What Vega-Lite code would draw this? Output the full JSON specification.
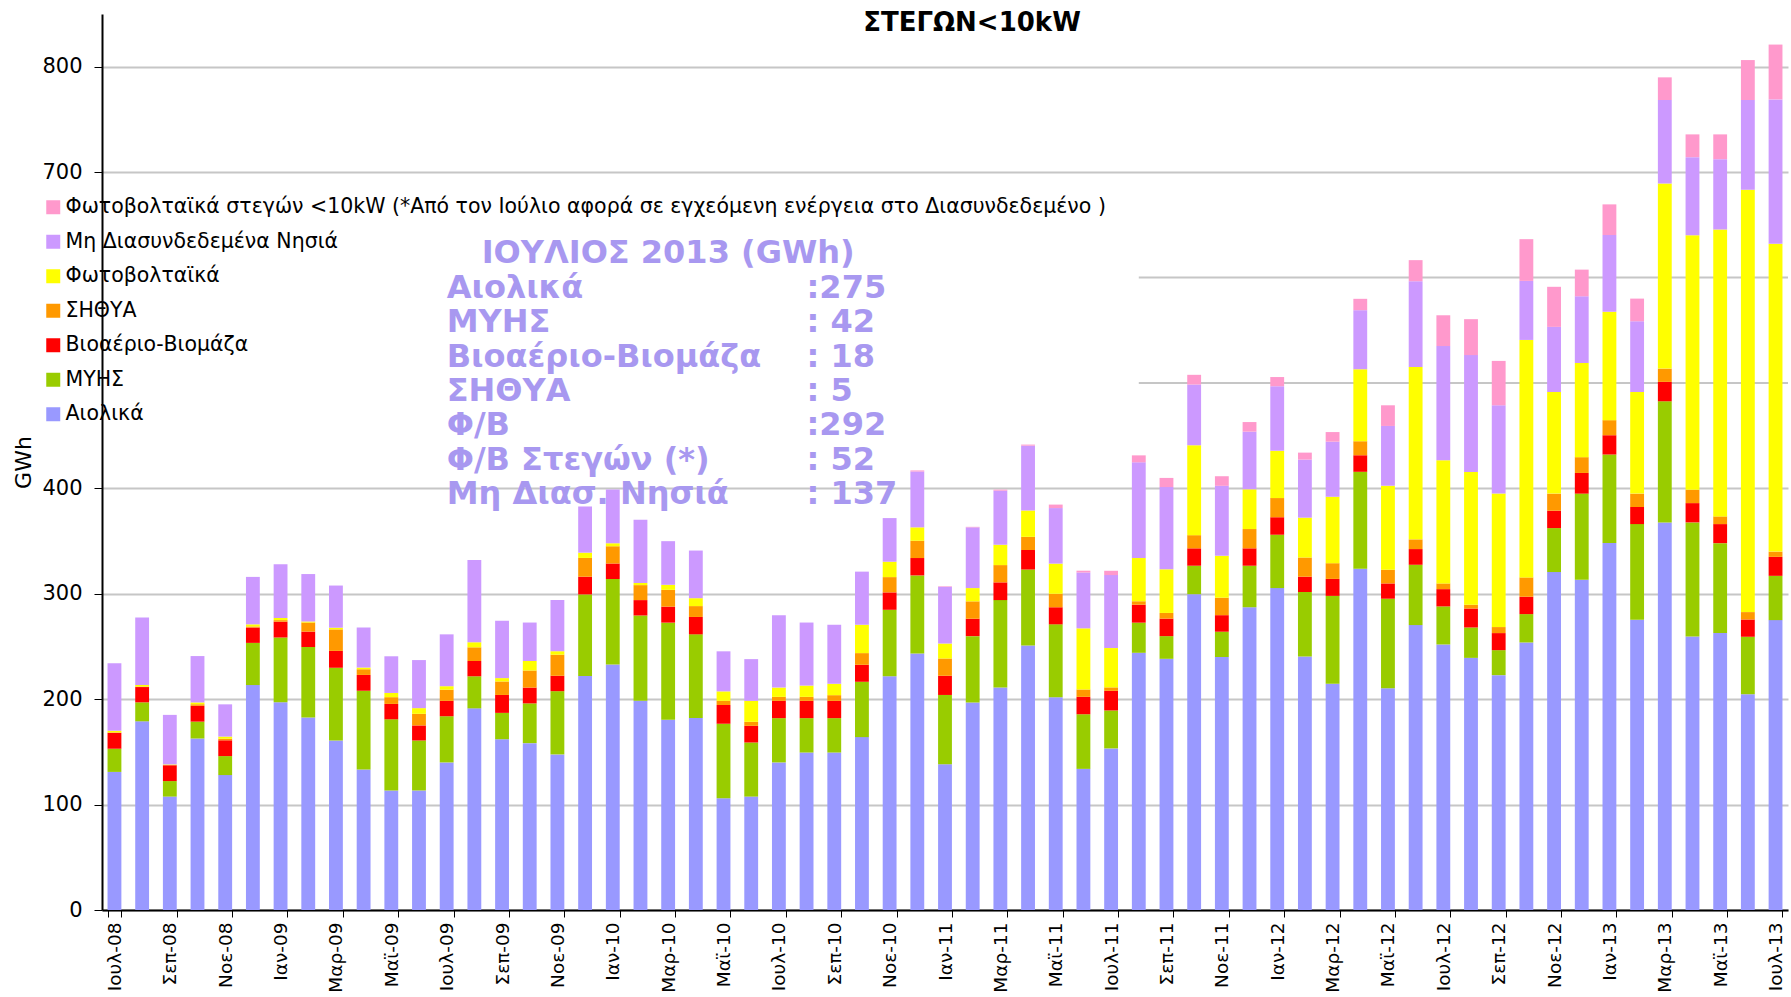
{
  "$schema": "https://vega.github.io/schema/vega-lite/v6.json",
  "width": 1686,
  "height": 896,
  "autosize": {"type": "none"},
  "padding": {"left": 102, "top": 14, "right": 3, "bottom": 87},
  "background": "white",
  "title": {"text": "ΣΤΕΓΩΝ<10kW", "font": "DejaVu Sans", "fontSize": 26, "fontWeight": "bold", "color": "#000", "anchor": "middle", "frame": "group", "offset": -22, "dx": 27},
  "config": {"view": {"stroke": null}},
  "datasets": {
    "series": [
      {"key": "A", "name": "Αιολικά", "rank": 1},
      {"key": "M", "name": "ΜΥΗΣ", "rank": 2},
      {"key": "B", "name": "Βιοαέριο-Βιομάζα", "rank": 3},
      {"key": "S", "name": "ΣΗΘΥΑ", "rank": 4},
      {"key": "PV", "name": "Φωτοβολταϊκά", "rank": 5},
      {"key": "N", "name": "Μη Διασυνδεδεμένα Νησιά", "rank": 6},
      {"key": "R", "name": "Φωτοβολταϊκά στεγών <10kW (*Από τον Ιούλιο αφορά σε εγχεόμενη ενέργεια στο Διασυνδεδεμένο )", "rank": 7}
    ],
    "months": [
      {"m": "Ιουλ-08", "A": 131, "M": 22, "B": 15, "S": 0.5, "PV": 1.5, "N": 64, "R": 0},
      {"m": "Αυγ-08", "A": 179, "M": 18, "B": 14.5, "S": 0.5, "PV": 1.5, "N": 64, "R": 0},
      {"m": "Σεπ-08", "A": 107.6, "M": 14.7, "B": 15, "S": 0.3, "PV": 0.5, "N": 47, "R": 0},
      {"m": "Οκτ-08", "A": 162.7, "M": 16, "B": 15, "S": 1.5, "PV": 1.7, "N": 44, "R": 0},
      {"m": "Νοε-08", "A": 128, "M": 18, "B": 15, "S": 1.5, "PV": 2, "N": 30.6, "R": 0},
      {"m": "Δεκ-08", "A": 213.4, "M": 40, "B": 14.6, "S": 1, "PV": 2, "N": 45, "R": 0},
      {"m": "Ιαν-09", "A": 197, "M": 61.5, "B": 15, "S": 1.5, "PV": 2, "N": 51, "R": 0},
      {"m": "Φεβ-09", "A": 182.5, "M": 67, "B": 14.6, "S": 8.6, "PV": 1, "N": 45, "R": 0},
      {"m": "Μαρ-09", "A": 160.8, "M": 69, "B": 16, "S": 20.4, "PV": 1.6, "N": 40, "R": 0},
      {"m": "Απρ-09", "A": 133.4, "M": 74.6, "B": 15, "S": 5.4, "PV": 1.6, "N": 38, "R": 0},
      {"m": "Μαϊ-09", "A": 113.4, "M": 67.5, "B": 14.6, "S": 6.4, "PV": 4, "N": 34.8, "R": 0},
      {"m": "Ιουν-09", "A": 113.4, "M": 47.4, "B": 14.3, "S": 11, "PV": 5.4, "N": 45.6, "R": 0},
      {"m": "Ιουλ-09", "A": 140, "M": 43.8, "B": 14.6, "S": 10.6, "PV": 3.3, "N": 49.2, "R": 0},
      {"m": "Αυγ-09", "A": 191.3, "M": 30.4, "B": 14.5, "S": 13, "PV": 4.8, "N": 78, "R": 0},
      {"m": "Σεπ-09", "A": 162, "M": 25, "B": 17, "S": 12.8, "PV": 3.2, "N": 54.4, "R": 0},
      {"m": "Οκτ-09", "A": 158.3, "M": 37.7, "B": 15, "S": 16.2, "PV": 9, "N": 36.5, "R": 0},
      {"m": "Νοε-09", "A": 147.6, "M": 60, "B": 14.6, "S": 20, "PV": 3.3, "N": 48.6, "R": 0},
      {"m": "Δεκ-09", "A": 222, "M": 77.4, "B": 16.8, "S": 17.8, "PV": 5, "N": 43.8, "R": 0},
      {"m": "Ιαν-10", "A": 233, "M": 81, "B": 14.8, "S": 16.2, "PV": 3, "N": 51, "R": 0},
      {"m": "Φεβ-10", "A": 198.4, "M": 81, "B": 14.6, "S": 14.2, "PV": 2, "N": 60, "R": 0},
      {"m": "Μαρ-10", "A": 180.6, "M": 92, "B": 15.2, "S": 15.9, "PV": 4.8, "N": 41.4, "R": 0},
      {"m": "Απρ-10", "A": 182.2, "M": 79.3, "B": 16.5, "S": 10.3, "PV": 7.5, "N": 45.2, "R": 0},
      {"m": "Μαϊ-10", "A": 106, "M": 70.7, "B": 17.8, "S": 3.9, "PV": 9, "N": 38, "R": 0},
      {"m": "Ιουν-10", "A": 107.6, "M": 51.3, "B": 15.8, "S": 3.8, "PV": 19.9, "N": 39.6, "R": 0},
      {"m": "Ιουλ-10", "A": 140, "M": 42, "B": 16.4, "S": 3.8, "PV": 8.8, "N": 68.7, "R": 0},
      {"m": "Αυγ-10", "A": 149.4, "M": 32.6, "B": 16.4, "S": 3.8, "PV": 10.7, "N": 59.8, "R": 0},
      {"m": "Σεπ-10", "A": 149.4, "M": 32.6, "B": 16.4, "S": 5.4, "PV": 10.8, "N": 56, "R": 0},
      {"m": "Οκτ-10", "A": 164, "M": 52.5, "B": 16.1, "S": 11.1, "PV": 26.9, "N": 50.4, "R": 0},
      {"m": "Νοε-10", "A": 221.8, "M": 63, "B": 16.5, "S": 14.5, "PV": 14.6, "N": 41.4, "R": 0},
      {"m": "Δεκ-10", "A": 243.4, "M": 74, "B": 16.5, "S": 16.4, "PV": 12.7, "N": 53, "R": 1},
      {"m": "Ιαν-11", "A": 138.3, "M": 65.7, "B": 18.2, "S": 16.4, "PV": 14.2, "N": 53.8, "R": 0.5},
      {"m": "Φεβ-11", "A": 196.8, "M": 63, "B": 16.5, "S": 16.5, "PV": 12.6, "N": 57.6, "R": 0.5},
      {"m": "Μαρ-11", "A": 211, "M": 83, "B": 16.8, "S": 16.4, "PV": 19.3, "N": 51.3, "R": 1},
      {"m": "Απρ-11", "A": 251, "M": 72, "B": 18.5, "S": 12.5, "PV": 25, "N": 61.5, "R": 1},
      {"m": "Μαϊ-11", "A": 201.8, "M": 69.2, "B": 16.2, "S": 12.8, "PV": 28.6, "N": 52.7, "R": 3.3},
      {"m": "Ιουν-11", "A": 133.9, "M": 51.8, "B": 16.5, "S": 7, "PV": 58, "N": 53, "R": 1.7},
      {"m": "Ιουλ-11", "A": 153.3, "M": 36, "B": 18.6, "S": 3.3, "PV": 37.3, "N": 69.2, "R": 4.1},
      {"m": "Αυγ-11", "A": 244, "M": 28.6, "B": 17, "S": 3.3, "PV": 41, "N": 90.8, "R": 6.6},
      {"m": "Σεπ-11", "A": 238.3, "M": 21.5, "B": 16.6, "S": 5.4, "PV": 41.4, "N": 78, "R": 8.7},
      {"m": "Οκτ-11", "A": 299.6, "M": 27, "B": 16.5, "S": 12.5, "PV": 85.3, "N": 57.6, "R": 9.2},
      {"m": "Νοε-11", "A": 240, "M": 24, "B": 15.7, "S": 16.6, "PV": 39.7, "N": 66.4, "R": 9.1},
      {"m": "Δεκ-11", "A": 287.2, "M": 39.4, "B": 16.5, "S": 18.3, "PV": 37.7, "N": 54.7, "R": 9.1},
      {"m": "Ιαν-12", "A": 305.4, "M": 50.6, "B": 16.6, "S": 18.2, "PV": 44.8, "N": 61.3, "R": 8.7},
      {"m": "Φεβ-12", "A": 240.4, "M": 61.3, "B": 14.5, "S": 18.2, "PV": 37.8, "N": 55.1, "R": 6.6},
      {"m": "Μαρ-12", "A": 214.7, "M": 83.3, "B": 16.1, "S": 14.9, "PV": 63, "N": 52.3, "R": 9.1},
      {"m": "Απρ-12", "A": 323.7, "M": 92, "B": 15.7, "S": 13.3, "PV": 68.3, "N": 56, "R": 10.8},
      {"m": "Μαϊ-12", "A": 210.4, "M": 84.9, "B": 14.5, "S": 13, "PV": 79.7, "N": 56.7, "R": 19.6},
      {"m": "Ιουν-12", "A": 270.3, "M": 57.2, "B": 14.9, "S": 9.2, "PV": 163.6, "N": 81.3, "R": 20},
      {"m": "Ιουλ-12", "A": 251.9, "M": 36.1, "B": 16.4, "S": 5.4, "PV": 116.8, "N": 108.4, "R": 29.2},
      {"m": "Αυγ-12", "A": 239.2, "M": 28.8, "B": 18, "S": 3.6, "PV": 126, "N": 110.8, "R": 34.1},
      {"m": "Σεπ-12", "A": 222.8, "M": 23.7, "B": 16.2, "S": 5.7, "PV": 126.6, "N": 83.8, "R": 42.1},
      {"m": "Οκτ-12", "A": 253.8, "M": 26.9, "B": 16.5, "S": 18.3, "PV": 225.3, "N": 56, "R": 39.6},
      {"m": "Νοε-12", "A": 320.6, "M": 41.7, "B": 16.5, "S": 16.2, "PV": 96.5, "N": 61.7, "R": 38},
      {"m": "Δεκ-12", "A": 313.3, "M": 81.7, "B": 19.6, "S": 15, "PV": 89.3, "N": 63.3, "R": 25.3},
      {"m": "Ιαν-13", "A": 348.1, "M": 84, "B": 18.3, "S": 14.3, "PV": 102.8, "N": 72.8, "R": 29.1},
      {"m": "Φεβ-13", "A": 275.3, "M": 90.8, "B": 16.2, "S": 12.7, "PV": 96.5, "N": 67, "R": 21.5},
      {"m": "Μαρ-13", "A": 367.7, "M": 114.9, "B": 18.4, "S": 12.6, "PV": 175.6, "N": 79.2, "R": 21.5},
      {"m": "Απρ-13", "A": 259.5, "M": 108.2, "B": 18.3, "S": 12.7, "PV": 241.5, "N": 74, "R": 21.6},
      {"m": "Μαϊ-13", "A": 262.7, "M": 85.3, "B": 18.1, "S": 7.3, "PV": 272.2, "N": 66.7, "R": 23.5},
      {"m": "Ιουν-13", "A": 204.7, "M": 54.5, "B": 16.4, "S": 7, "PV": 400.6, "N": 85.2, "R": 37.9},
      {"m": "Ιουλ-13", "A": 275, "M": 42, "B": 18, "S": 5, "PV": 292, "N": 137, "R": 52}
    ]
  },
  "encoding": {
    "x": {
      "type": "ordinal",
      "scale": {
        "domain": ["Ιουλ-08","Αυγ-08","Σεπ-08","Οκτ-08","Νοε-08","Δεκ-08","Ιαν-09","Φεβ-09","Μαρ-09","Απρ-09","Μαϊ-09","Ιουν-09","Ιουλ-09","Αυγ-09","Σεπ-09","Οκτ-09","Νοε-09","Δεκ-09","Ιαν-10","Φεβ-10","Μαρ-10","Απρ-10","Μαϊ-10","Ιουν-10","Ιουλ-10","Αυγ-10","Σεπ-10","Οκτ-10","Νοε-10","Δεκ-10","Ιαν-11","Φεβ-11","Μαρ-11","Απρ-11","Μαϊ-11","Ιουν-11","Ιουλ-11","Αυγ-11","Σεπ-11","Οκτ-11","Νοε-11","Δεκ-11","Ιαν-12","Φεβ-12","Μαρ-12","Απρ-12","Μαϊ-12","Ιουν-12","Ιουλ-12","Αυγ-12","Σεπ-12","Οκτ-12","Νοε-12","Δεκ-12","Ιαν-13","Φεβ-13","Μαρ-13","Απρ-13","Μαϊ-13","Ιουν-13","Ιουλ-13"],
        "paddingInner": 0.5,
        "paddingOuter": 0.2
      }
    }
  },
  "layer": [
    {
      "data": {"values": [{"g": 500}, {"g": 600}]},
      "mark": {"type": "rule", "color": "#c6c6c6", "strokeWidth": 2},
      "encoding": {
        "x": {"datum": "Αυγ-11", "type": "ordinal"},
        "x2": {"value": "width"},
        "y": {"field": "g", "type": "quantitative"}
      }
    },
    {
      "data": {"name": "months"},
      "transform": [
        {"fold": ["A", "M", "B", "S", "PV", "N", "R"], "as": ["key", "v"]},
        {"lookup": "key", "from": {"data": {"name": "series"}, "key": "key", "fields": ["name", "rank"]}}
      ],
      "mark": {"type": "bar"},
      "encoding": {
        "x": {
          "field": "m", "type": "ordinal",
          "axis": {
            "values": ["Ιουλ-08","Σεπ-08","Νοε-08","Ιαν-09","Μαρ-09","Μαϊ-09","Ιουλ-09","Σεπ-09","Νοε-09","Ιαν-10","Μαρ-10","Μαϊ-10","Ιουλ-10","Σεπ-10","Νοε-10","Ιαν-11","Μαρ-11","Μαϊ-11","Ιουλ-11","Σεπ-11","Νοε-11","Ιαν-12","Μαρ-12","Μαϊ-12","Ιουλ-12","Σεπ-12","Νοε-12","Ιαν-13","Μαρ-13","Μαϊ-13","Ιουλ-13"],
            "title": null, "labelAngle": -90, "labelFont": "DejaVu Sans", "labelFontSize": 18.5, "labelColor": "#000",
            "tickBand": "extent", "tickSize": 7, "tickColor": "#000", "domainColor": "#000", "domainWidth": 2, "labelPadding": 5, "grid": false
          }
        },
        "y": {
          "field": "v", "type": "quantitative", "stack": "zero",
          "scale": {"domain": [0, 850], "nice": false},
          "axis": {
            "values": [0, 100, 200, 300, 400, 700, 800], "grid": true, "gridColor": "#c6c6c6", "gridWidth": 2,
            "domainColor": "#000", "domainWidth": 2, "tickColor": "#000", "tickSize": 8,
            "labelFont": "DejaVu Sans", "labelFontSize": 21, "labelColor": "#000", "labelPadding": 12,
            "title": "GWh", "titleFont": "DejaVu Sans", "titleFontSize": 22, "titleFontWeight": "normal", "titleColor": "#000", "titlePadding": 6
          }
        },
        "color": {
          "field": "name", "type": "nominal",
          "scale": {
            "domain": ["Φωτοβολταϊκά στεγών <10kW (*Από τον Ιούλιο αφορά σε εγχεόμενη ενέργεια στο Διασυνδεδεμένο )", "Μη Διασυνδεδεμένα Νησιά", "Φωτοβολταϊκά", "ΣΗΘΥΑ", "Βιοαέριο-Βιομάζα", "ΜΥΗΣ", "Αιολικά"],
            "range": ["#ff99cc", "#cc99ff", "#ffff00", "#ff9900", "#ff0000", "#99cc00", "#9999ff"]
          },
          "legend": {
            "orient": "none", "legendX": -59, "legendY": 183, "title": null, "symbolType": "square", "symbolSize": 196,
            "symbolStrokeWidth": 0, "labelFont": "DejaVu Sans", "labelFontSize": 20.5, "labelColor": "#000", "labelLimit": 1300,
            "rowPadding": 13.5, "labelOffset": 2, "padding": 0
          }
        },
        "order": {"field": "rank", "type": "quantitative", "sort": "ascending"}
      }
    },
    {
      "data": {"values": [{"lines": "ΙΟΥΛΙΟΣ 2013 (GWh)"}]},
      "mark": {"type": "text", "align": "center", "baseline": "middle", "font": "DejaVu Sans", "fontSize": 32, "fontWeight": "bold", "color": "#a898f0"},
      "encoding": {
        "x": {"datum": "Μαρ-10", "type": "ordinal"},
        "y": {"datum": 623, "type": "quantitative"},
        "text": {"field": "lines", "type": "nominal"}
      }
    },
    {
      "data": {"values": [{"lines": ["Αιολικά", "ΜΥΗΣ", "Βιοαέριο-Βιομάζα", "ΣΗΘΥΑ", "Φ/Β", "Φ/Β Στεγών (*)", "Μη Διασ. Νησιά"]}]},
      "mark": {"type": "text", "align": "left", "baseline": "middle", "font": "DejaVu Sans", "fontSize": 32, "fontWeight": "bold", "color": "#a898f0", "lineHeight": 34.3},
      "encoding": {
        "x": {"datum": "Ιουλ-09", "type": "ordinal"},
        "y": {"datum": 590, "type": "quantitative"},
        "text": {"field": "lines", "type": "nominal"}
      }
    },
    {
      "data": {"values": [{"lines": [":275", ": 42", ": 18", ": 5", ":292", ": 52", ": 137"]}]},
      "mark": {"type": "text", "align": "left", "baseline": "middle", "font": "DejaVu Sans", "fontSize": 32, "fontWeight": "bold", "color": "#a898f0", "lineHeight": 34.3},
      "encoding": {
        "x": {"datum": "Αυγ-10", "type": "ordinal"},
        "y": {"datum": 590, "type": "quantitative"},
        "text": {"field": "lines", "type": "nominal"}
      }
    }
  ]
}
